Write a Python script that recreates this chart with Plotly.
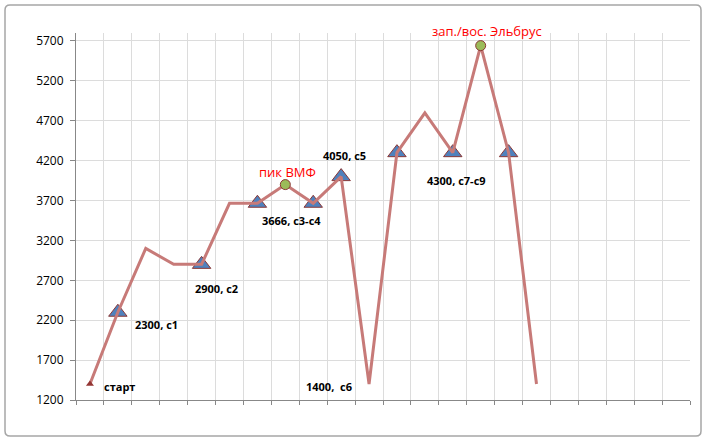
import plotly.graph_objects as go

# ---- data ----
stage = list(range(1, 18))
altitude = [1400, 2300, 3100, 2900, 2900, 3666, 3666, 3900, 3666, 4000,
            1400, 4300, 4800, 4300, 5642, 4300, 1400]
marker_kind = ["start", "camp", None, None, "camp", None, "camp", "peak", "camp", "camp",
               None, "camp", None, "camp", "peak", "camp", None]
point_labels = ["старт", "2300, с1", None, None, "2900, с2", None, "3666, с3-с4", "пик ВМФ",
                None, "4050, с5", "1400,  с6", None, None, "4300, с7-с9",
                "зап./вос. Эльбрус", None, None]
y_ticks = [1200, 1700, 2200, 2700, 3200, 3700, 4200, 4700, 5200, 5700]

# ---- styles ----
LINE_COLOR = "#C77A78"
label_style = {  # index -> (xshift, yshift, color, bold, size, xanchor)
    0: (12, -2, "black", True, 11, "left"),
    1: (39, -12, "black", True, 11, "center"),
    4: (15, -24, "black", True, 11, "center"),
    6: (34, -17, "black", True, 11, "center"),
    7: (2, 13, "#FF0000", False, 13, "center"),
    9: (3, 21, "black", True, 11, "center"),
    10: (-40, -2, "black", True, 11, "center"),
    13: (4, -28, "black", True, 11, "center"),
    14: (6, 15, "#FF0000", False, 13, "center"),
}

fig = go.Figure()

def subset(kind):
    xs = [s for s, k in zip(stage, marker_kind) if k == kind]
    ys = [a for a, k in zip(altitude, marker_kind) if k == kind]
    return xs, ys

cx, cy = subset("camp")
fig.add_trace(go.Scatter(x=cx, y=cy, mode="markers", hoverinfo="skip",
                         marker=dict(symbol="triangle-up", size=16, color="#4F81BD",
                                     line=dict(color="#8C3836", width=1))))

fig.add_trace(go.Scatter(x=stage, y=altitude, mode="lines", hoverinfo="skip",
                         line=dict(color=LINE_COLOR, width=3)))

sx, sy = subset("start")
fig.add_trace(go.Scatter(x=sx, y=sy, mode="markers", hoverinfo="skip",
                         marker=dict(symbol="triangle-up", size=7, color="#943634",
                                     line=dict(width=0))))

px_, py_ = subset("peak")
fig.add_trace(go.Scatter(x=px_, y=py_, mode="markers", hoverinfo="skip",
                         marker=dict(symbol="circle", size=10, color="#9BBB59",
                                     line=dict(color="#8C3836", width=1))))

for i, txt in enumerate(point_labels):
    if txt is None:
        continue
    xs, ys, col, bold, size, xa = label_style[i]
    fig.add_annotation(x=stage[i], y=altitude[i], xref="x", yref="y",
                       text=f"<b>{txt}</b>" if bold else txt, showarrow=False,
                       xshift=xs, yshift=ys, xanchor=xa, yanchor="middle",
                       font=dict(family="Open Sans", size=size, color=col))

# chart border with rounded corners
L, R, T, B = 76, 17, 33, 43
W, H = 707, 443
pw, ph = W - L - R, H - T - B
def px2x(p): return (p - L) / pw
def py2y(p): return (H - B - p) / ph
x0p, x1p, y0p, y1p, r = 5, 701, 5, 436, 5
path = (f"M {px2x(x0p + r)},{py2y(y0p)} L {px2x(x1p - r)},{py2y(y0p)} "
        f"Q {px2x(x1p)},{py2y(y0p)} {px2x(x1p)},{py2y(y0p + r)} "
        f"L {px2x(x1p)},{py2y(y1p - r)} Q {px2x(x1p)},{py2y(y1p)} {px2x(x1p - r)},{py2y(y1p)} "
        f"L {px2x(x0p + r)},{py2y(y1p)} Q {px2x(x0p)},{py2y(y1p)} {px2x(x0p)},{py2y(y1p - r)} "
        f"L {px2x(x0p)},{py2y(y0p + r)} Q {px2x(x0p)},{py2y(y0p)} {px2x(x0p + r)},{py2y(y0p)} Z")
fig.add_shape(type="path", xref="paper", yref="paper", path=path,
              line=dict(color="#A6A6A6", width=1.5), layer="below")

fig.update_layout(
    width=W, height=H, showlegend=False,
    margin=dict(l=L, r=R, t=T, b=B),
    paper_bgcolor="white", plot_bgcolor="white",
    font=dict(family="Open Sans", size=12, color="black"),
    xaxis=dict(range=[0.5, 22.5], tick0=0.5, dtick=1, showticklabels=False,
               showgrid=True, gridcolor="#DCDCDC", gridwidth=1,
               showline=True, linecolor="#888888", linewidth=1,
               ticks="outside", ticklen=4, tickcolor="#888888", zeroline=False),
    yaxis=dict(range=[1200, 5800], tickvals=y_ticks, ticktext=[str(v) for v in y_ticks],
               showgrid=True, gridcolor="#DCDCDC", gridwidth=1,
               showline=True, linecolor="#888888", linewidth=1,
               ticks="outside", ticklen=5, tickcolor="#888888", zeroline=False,
               ticklabelstandoff=4, tickfont=dict(family="Open Sans", size=12)),
)

fig.write_html("out.html", config={"displayModeBar": False},
               post_script="document.body.style.margin='0';document.body.style.overflow='hidden';")
